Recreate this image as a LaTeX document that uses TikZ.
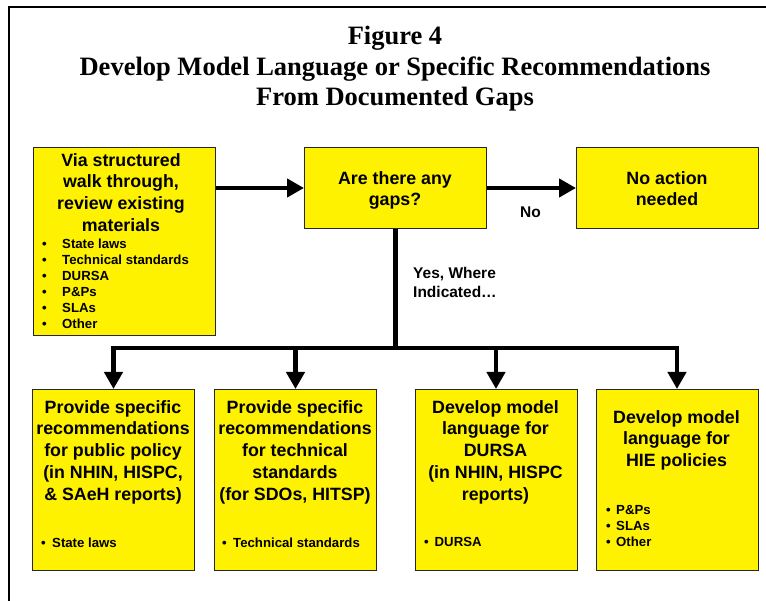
\documentclass[tikz,border=0pt]{standalone}
\usepackage{fontspec}
\setmainfont{Liberation Serif}
\newfontfamily\arialfont{Liberation Sans}
\usetikzlibrary{arrows.meta}
\newcommand{\bul}[1]{\makebox[#1][l]{•}}
\begin{document}
\begin{tikzpicture}[x=1pt,y=-1pt,
  box/.style={draw=black!85, line width=1pt, fill=yellow, inner sep=0pt, anchor=north west},
  head/.style={align=center, inner sep=0pt, anchor=north, font=\arialfont\bfseries\fontsize{17.8}{21.7}\selectfont},
  blist/.style={align=left, inner sep=0pt, anchor=north west, font=\arialfont\bfseries\fontsize{13.2}{16}\selectfont},
  lbl/.style={align=left, inner sep=0pt, anchor=north west, font=\arialfont\bfseries\fontsize{15.5}{19}\selectfont},
  conn/.style={line width=4.5pt, -{Triangle[length=17pt,width=18pt]}},
  bus/.style={line width=4.5pt},
  frame/.style={line width=2pt},
  ttl/.style={inner sep=0pt, anchor=base, font=\bfseries\fontsize{26.5}{30.5}\selectfont}
]
\useasboundingbox (0,0) rectangle (766,601);
\fill[white] (0,0) rectangle (766,601);
\draw[frame] (766,7) -- (9,7) -- (9,601);

% title
\node[ttl] (t1) at (395,45) {Figure 4};
\node[ttl] (t2) at (395,76) {Develop Model Language or Specific Recommendations};
\node[ttl] (t3) at (395,106) {From Documented Gaps};

% top row boxes
\node[box, minimum width=182pt, minimum height=188pt] (A) at (33,147) {};
\node[box, minimum width=182pt, minimum height=81pt] (B) at (304,147) {};
\node[box, minimum width=182pt, minimum height=81pt] (C) at (576,147) {};

\node[head] (Ah) at (121,153.2) {Via structured\\walk through,\\review existing\\materials};
\node[blist] (Al) at (42,238.4) {\bul{20pt}State laws\\\bul{20pt}Technical standards\\\bul{20pt}DURSA\\\bul{20pt}P\&Ps\\\bul{20pt}SLAs\\\bul{20pt}Other};
\node[head] (Bh) at (395,171.2) {Are there any\\gaps?};
\node[head] (Ch) at (667,171.2) {No action\\needed};

% bottom row boxes
\node[box, minimum width=162pt, minimum height=181pt] (D1) at (32,389) {};
\node[box, minimum width=162pt, minimum height=181pt] (D2) at (214,389) {};
\node[box, minimum width=162pt, minimum height=181pt] (D3) at (414.5,389) {};
\node[box, minimum width=162pt, minimum height=181pt] (D4) at (595.5,389) {};

\node[head] (D1h) at (113,400.2) {Provide specific\\recommendations\\for public policy\\(in NHIN, HISPC,\\\& SAeH reports)};
\node[head] (D2h) at (295,400.2) {Provide specific\\recommendations\\for technical\\standards\\(for SDOs, HITSP)};
\node[head] (D3h) at (495.5,400.2) {Develop model\\language for\\DURSA\\(in NHIN, HISPC\\reports)};
\node[head] (D4h) at (676.5,410.2) {Develop model\\language for\\HIE policies};

\node[blist] (D1l) at (41,537.4) {\bul{11pt}State laws};
\node[blist] (D2l) at (222,537.4) {\bul{11pt}Technical standards};
\node[blist] (D3l) at (424,537.4) {\bul{10.5pt}DURSA};
\node[blist] (D4l) at (606,505.4) {\bul{10pt}P\&Ps\\\bul{10pt}SLAs\\\bul{10pt}Other};

% labels
\node[lbl] (no) at (520,207) {No};
\node[lbl] (yes) at (413,267.4) {Yes, Where\\Indicated…};

% connectors
\coordinate (bar) at (395,348);
\draw[conn] (B.west -| A.east) -- (B.west);
\draw[conn] (B.east) -- (C.west);
\draw[bus] (B.south) -- (B.south |- bar);
\draw[bus, line cap=rect] (bar -| D1.north) -- (bar -| D4.north);
\draw[conn] (bar -| D1.north) -- (D1.north);
\draw[conn] (bar -| D2.north) -- (D2.north);
\draw[conn] (bar -| D3.north) -- (D3.north);
\draw[conn] (bar -| D4.north) -- (D4.north);
\end{tikzpicture}
\end{document}
